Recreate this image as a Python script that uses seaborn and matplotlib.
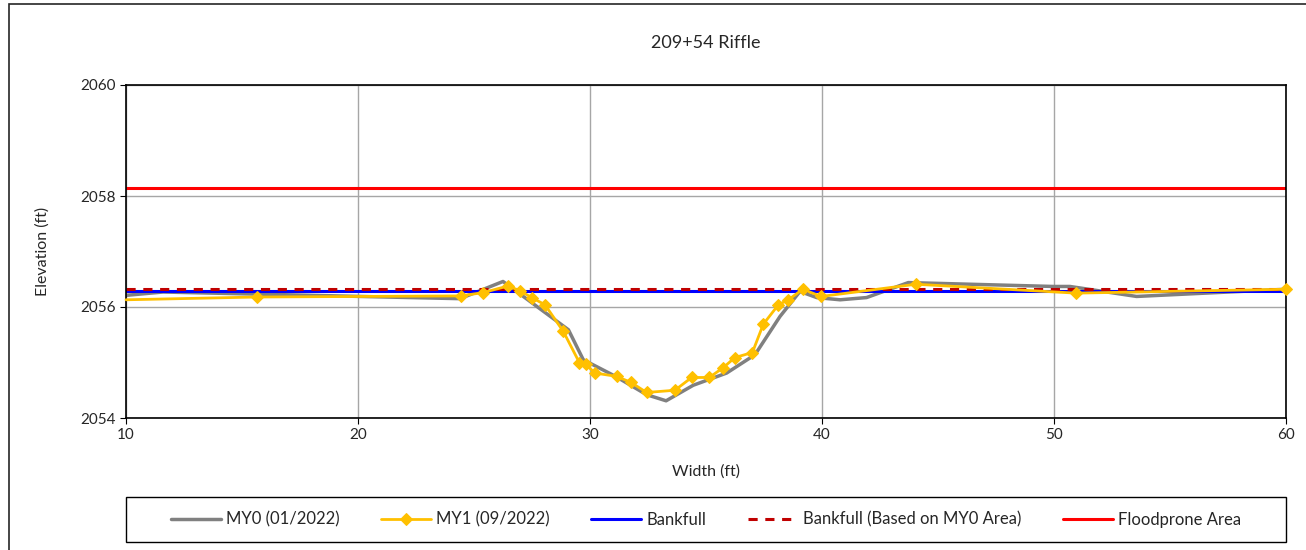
import matplotlib
matplotlib.use("Agg")
import matplotlib.pyplot as plt
import seaborn as sns
import pandas as pd
from matplotlib.patches import Rectangle

# ---- data ----
my0_x = [10.0, 11.6, 24.4, 26.25, 29.07, 29.71, 31.1, 32.44, 33.28, 34.45, 35.89, 37.11,
         38.19, 39.05, 39.77, 40.78, 41.92, 43.72, 49.97, 50.69, 53.56, 60.0]
my0_y = [2056.21, 2056.27, 2056.15, 2056.46, 2055.59, 2055.05, 2054.75, 2054.42, 2054.31,
         2054.59, 2054.81, 2055.14, 2055.83, 2056.28, 2056.17, 2056.13, 2056.17, 2056.44,
         2056.37, 2056.37, 2056.19, 2056.32]

my1_x = [10.0, 15.65, 24.43, 25.40, 26.48, 26.98, 27.49, 28.06, 28.85, 29.54, 29.81, 30.21,
         31.15, 31.77, 32.44, 33.66, 34.38, 35.14, 35.72, 36.25, 37.00, 37.47, 38.12, 38.55,
         39.17, 39.96, 44.05, 50.95, 60.0]
my1_y = [2056.13, 2056.18, 2056.20, 2056.26, 2056.38, 2056.29, 2056.17, 2056.04, 2055.56,
         2055.00, 2054.97, 2054.81, 2054.75, 2054.64, 2054.46, 2054.50, 2054.73, 2054.73,
         2054.90, 2055.09, 2055.18, 2055.69, 2056.04, 2056.13, 2056.32, 2056.19, 2056.41,
         2056.25, 2056.32]

bankfull_x = [10.0, 60.0]
bankfull_y = [2056.29, 2056.29]
bankfull_my0_x = [10.0, 60.0]
bankfull_my0_y = [2056.32, 2056.32]
flood_x = [10.0, 60.0]
flood_y = [2058.14, 2058.14]

x_ticks = [10, 20, 30, 40, 50, 60]
y_ticks = [2054, 2056, 2058, 2060]

title = "209+54 Riffle"
labels = ["MY0 (01/2022)", "MY1 (09/2022)", "Bankfull", "Bankfull (Based on MY0 Area)", "Floodprone Area"]

# ---- style ----
sns.set_style("white")
plt.rcParams['font.family'] = ['Lato', 'DejaVu Sans']

W, H = 1306, 550
fig = plt.figure(figsize=(W/100, H/100), dpi=100)
ax = fig.add_axes([126/W, 1 - 418/H, (1286-126)/W, (418-85)/H])

sns.lineplot(x=my0_x, y=my0_y, ax=ax, color="#808080", linewidth=2.5, label=labels[0],
             sort=False, estimator=None)
sns.lineplot(x=my1_x, y=my1_y, ax=ax, color="#FFC000", linewidth=2.0, marker="D",
             markersize=6.5, markeredgecolor="#FFC000", label=labels[1], sort=False,
             estimator=None, markevery=list(range(1, len(my1_x))), clip_on=False, zorder=5)
sns.lineplot(x=bankfull_x, y=bankfull_y, ax=ax, color="#0000FF", linewidth=2.2,
             label=labels[2], estimator=None)
sns.lineplot(x=bankfull_my0_x, y=bankfull_my0_y, ax=ax, color="#C00000", linewidth=2.2,
             linestyle=(0, (3, 2.5)), label=labels[3], estimator=None)
sns.lineplot(x=flood_x, y=flood_y, ax=ax, color="#FF0000", linewidth=2.2,
             label=labels[4], estimator=None)

ax.set_xlim(10, 60)
ax.set_ylim(2054, 2060)
ax.set_xticks(x_ticks)
ax.set_yticks(y_ticks)
ax.grid(True, color="#A6A6A6", linewidth=1.0)
ax.set_axisbelow(True)
for s in ax.spines.values():
    s.set_color("black")
    s.set_linewidth(1.2)
ax.tick_params(axis='both', labelsize=11, length=4, direction='out', color='black',
               bottom=True, left=True)
ax.set_xlabel("Width (ft)", fontsize=11.5, labelpad=16)
ax.set_ylabel("Elevation (ft)", fontsize=11.5, labelpad=22)
fig.text(706/W, 1 - 43/H, title, ha="center", va="center", fontsize=13)

handles, lbls = ax.get_legend_handles_labels()
ax.legend_.remove()
box = (126/W, 1 - 542/H, (1286-126)/W, 45/H)
leg = fig.legend(handles, lbls, loc="center", ncol=5, bbox_to_anchor=box,
                 frameon=False, fontsize=12, handlelength=3.0, columnspacing=2.5,
                 handletextpad=0.3, borderaxespad=0)
fig.patches.append(Rectangle((box[0], box[1]), box[2], box[3], transform=fig.transFigure,
                             fill=False, edgecolor="black", linewidth=1.0))

# outer chart border (starts inside top-left, runs past right/bottom edges)
fig.patches.append(Rectangle((9/W, -10/H), (W + 20)/W, (H - 4 + 10)/H,
                             transform=fig.transFigure, fill=False,
                             edgecolor="#262626", linewidth=1.2))

fig.savefig("out.png", dpi=100)
